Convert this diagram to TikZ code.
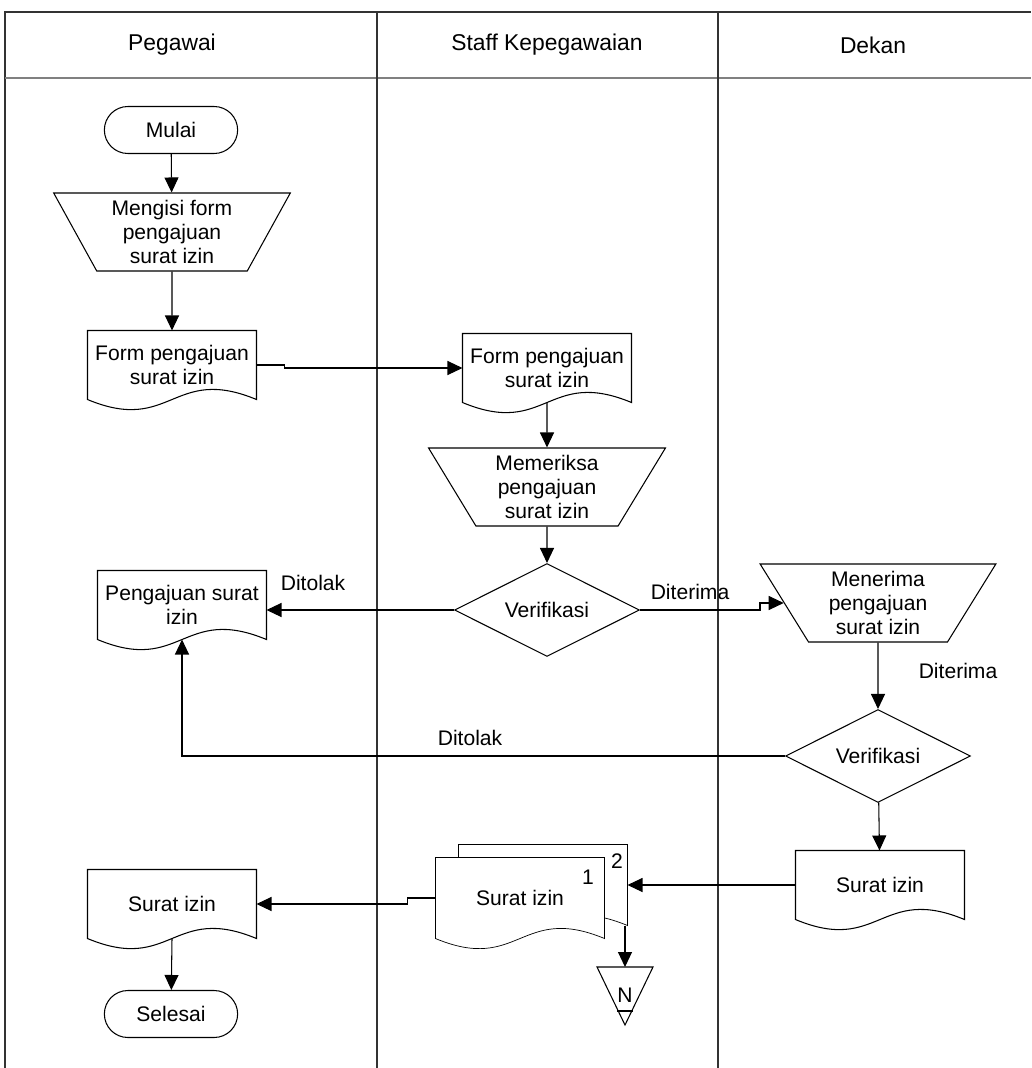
\documentclass[tikz,border=0pt]{standalone}
\usepackage{fontspec}
\setmainfont{Liberation Sans}
\usetikzlibrary{shapes}
\usetikzlibrary{arrows.meta}
\usetikzlibrary{backgrounds}

% outline of a document symbol round a node
\newcommand{\docshape}[2][]{%
  \draw[#1] (#2.south west) -- (#2.north west) -- (#2.north east) -- (#2.south east)
    .. controls +(-1.68cm,0.7cm) and +(1.68cm,-0.7cm) .. cycle;}

\begin{document}
\begin{tikzpicture}[x=0.02cm, y=-0.02cm, line width=0.6pt, font=\fontsize{12}{13.6}\selectfont]

  \tikzset{lane/.style = {line width=0.8pt, draw=black!80}}
  \tikzset{term/.style = {rounded rectangle, draw, minimum width=2.9cm, minimum height=0.94cm}}
  \tikzset{manual/.style = {trapezium, draw, trapezium stretches=true, shape border rotate=180,
      trapezium angle=62, minimum width=4.74cm, minimum height=1.56cm, inner sep=1pt, align=center}}
  \tikzset{doc/.style = {minimum width=3.36cm, minimum height=1.36cm, inner sep=0pt, align=center}}
  \tikzset{decision/.style = {diamond, draw, aspect=2, minimum width=3.7cm, minimum height=1.86cm, inner sep=1pt}}
  \tikzset{flowline/.style = {-{Triangle[length=0.3cm, width=0.28cm]}}}
  \tikzset{head/.style = {font=\fontsize{13}{15}\selectfont}}
  \useasboundingbox (0,0) rectangle (1031,1068);

  % lanes
  \draw[lane] (5,1068) -- (5,12) -- (1031,12);
  \draw[lane, draw=black!50] (5,78) -- (1031,78);
  \draw[lane] (377,12) -- (377,1068);
  \draw[lane] (718,12) -- (718,1068);
  \node[head] (hpeg) at (172,45) {Pegawai};
  \node[head] (hstaff) at (547,45) {Staff Kepegawaian};
  \node[head] (hdekan) at (873,45) {Dekan};

  % pegawai
  \node[term] (mulai) at (171,130) {Mulai};
  \node[manual] (isi) at (172,232) {Mengisi form\\pengajuan\\surat izin};
  \node[doc] (form1) at (172,365) {Form pengajuan\\surat izin};
  \node[doc] (aju) at (182,605) {Pengajuan surat\\izin};
  \node[doc] (srt1) at (172,904) {Surat izin};
  \node[term] (selesai) at (171,1014) {Selesai};

  % staff
  \node[doc] (form2) at (547,368) {Form pengajuan\\surat izin};
  \node[manual] (periksa) at (547,487) {Memeriksa\\pengajuan\\surat izin};
  \node[decision] (ver1) at (547,610) {Verifikasi};
  \node[doc, minimum height=1.6cm] (back) at (543,885) {};
  \node[doc, minimum height=1.6cm] (front) at (520,898) {Surat izin};
  \node (n1) at (588,877) {1};
  \node (n2) at (617,861) {2};
  \coordinate (ntop) at (625,967);
  \draw (597,967) -- (653,967) -- (625,1025) -- cycle;
  \draw (617,1011) -- (633,1011);
  \node (nlbl) at (625,995) {N};

  % dekan
  \node[manual] (terima) at (878,603) {Menerima\\pengajuan\\surat izin};
  \node[decision] (ver2) at (878,756) {Verifikasi};
  \node[doc] (srt3) at (880,885) {Surat izin};

  % document outlines
  \docshape{form1}
  \docshape{aju}
  \docshape{srt1}
  \docshape{form2}
  \docshape{srt3}
  \begin{scope}[on background layer]
    \docshape[fill=white]{back}
    \docshape[fill=white]{front}
  \end{scope}

  % flow
  \draw[flowline] (mulai) -- (isi);
  \draw[flowline] (isi) -- (form1);
  \draw[flowline] (form1.east) -- ++(28,0) |- (form2.west);
  \draw[flowline] (form2.south) -- (periksa);
  \draw[flowline] (periksa) -- (ver1);
  \draw[flowline] (ver1.west) -- (ver1.west -| aju.east);
  \draw[flowline] (ver1.east) -- ++(120,0) |- (terima.west);
  \draw[flowline] (terima) -- (ver2);
  \draw[flowline] (ver2.west) -| (aju.south);
  \draw[flowline] (ver2) -- (srt3);
  \draw[flowline] (srt3.west) -- (srt3.west -| back.east);
  \draw[flowline] (front.west) -- ++(-28,0) |- (srt1.east);
  \draw[flowline] (ntop |- back.south) -- (ntop);
  \draw[flowline] (srt1.south) -- (selesai);

  % labels
  \node (tolak1) at (313,583) {Ditolak};
  \node (trm1) at (690,592) {Diterima};
  \node (trm2) at (958,671) {Diterima};
  \node (tolak2) at (470,738) {Ditolak};
\end{tikzpicture}
\end{document}
